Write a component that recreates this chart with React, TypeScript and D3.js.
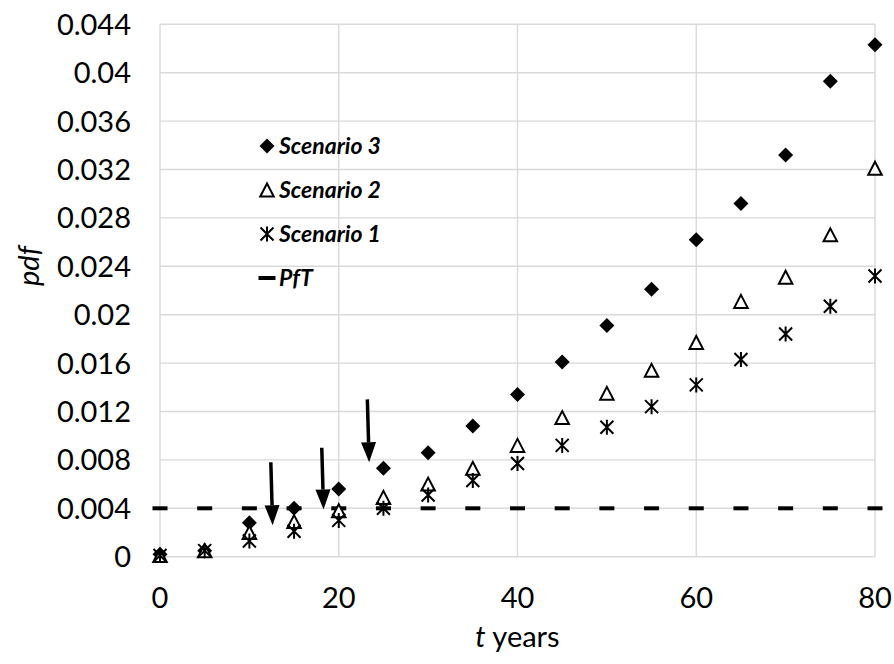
import React from "react";
import * as d3 from "d3";

// Observation years (every 5 years)
const years = [0, 5, 10, 15, 20, 25, 30, 35, 40, 45, 50, 55, 60, 65, 70, 75, 80];

// Probability density per scenario
const scenario3 = [0.0002, 0.0005, 0.0028, 0.004, 0.0056, 0.0073, 0.0086, 0.0108, 0.0134, 0.0161, 0.0191, 0.0221, 0.0262, 0.0292, 0.0332, 0.0393, 0.0423];
const scenario2 = [0.0001, 0.0005, 0.002, 0.0029, 0.0038, 0.0049, 0.006, 0.0073, 0.0092, 0.0115, 0.0135, 0.0154, 0.0177, 0.0211, 0.0231, 0.0266, 0.0321];
const scenario1 = [0.0001, 0.0005, 0.0013, 0.0021, 0.003, 0.004, 0.0051, 0.0063, 0.0077, 0.0092, 0.0107, 0.0124, 0.0142, 0.0163, 0.0184, 0.0207, 0.0232];

// Target threshold
const pftValue = 0.004;

// Axis ticks
const xTicks = [0, 20, 40, 60, 80];
const yTicks = [0, 0.004, 0.008, 0.012, 0.016, 0.02, 0.024, 0.028, 0.032, 0.036, 0.04, 0.044];

// Arrows marking where each scenario crosses the threshold
const arrowT0 = [12.4, 18.1, 23.2];
const arrowT1 = [12.6, 18.3, 23.4];
const arrowY0 = [0.0078, 0.009, 0.013];
const arrowY1 = [0.0026, 0.0039, 0.0078];

const legendLabels = ["Scenario 3", "Scenario 2", "Scenario 1", "PfT"];

const W = 894;
const H = 664;
const FONT = "Lato, 'Open Sans', sans-serif";
const AXIS_FS = 29;

const x = d3.scaleLinear().domain([0, 80]).range([160, 875]);
const y = d3.scaleLinear().domain([0, 0.044]).range([556.7, 24.3]);

const GRID = "#d9d9d9";

function Diamond({ cx, cy, r = 7.5 }: { cx: number; cy: number; r?: number }) {
  return <path d={`M${cx},${cy - r}L${cx + r},${cy}L${cx},${cy + r}L${cx - r},${cy}Z`} fill="#000" />;
}

function Triangle({ cx, cy }: { cx: number; cy: number }) {
  const w = 13.5;
  const h = 13;
  return (
    <path
      d={`M${cx},${cy - h / 2}L${cx + w / 2},${cy + h / 2}L${cx - w / 2},${cy + h / 2}Z`}
      fill="#fff"
      stroke="#000"
      strokeWidth={2}
      strokeLinejoin="miter"
    />
  );
}

function Star({ cx, cy }: { cx: number; cy: number }) {
  const r = 7.5;
  const d = 6.5;
  return (
    <path
      d={`M${cx},${cy - r}L${cx},${cy + r}M${cx - d},${cy - d}L${cx + d},${cy + d}M${cx + d},${cy - d}L${cx - d},${cy + d}`}
      stroke="#000"
      strokeWidth={2}
      fill="none"
    />
  );
}

function Dash({ cx, cy }: { cx: number; cy: number }) {
  return <rect x={cx - 7.5} y={cy - 2} width={15} height={4} fill="#000" />;
}

export default function App() {
  const [x0, x1] = x.range();
  const [yb, yt] = y.range();

  return (
    <svg
      width={W}
      height={H}
      viewBox={`0 0 ${W} ${H}`}
      style={{ position: "absolute", left: 0, top: 0, background: "#fff" }}
      fontFamily={FONT}
    >
      <rect width={W} height={H} fill="#fff" />

      {/* gridlines */}
      {yTicks.map((t) => (
        <line key={`gy${t}`} x1={x0} x2={x1} y1={y(t)} y2={y(t)} stroke={GRID} strokeWidth={1.4} />
      ))}
      {xTicks.map((t) => (
        <line key={`gx${t}`} x1={x(t)} x2={x(t)} y1={yt} y2={yb} stroke={GRID} strokeWidth={1.4} />
      ))}

      {/* tick labels */}
      {yTicks.map((t) => (
        <text key={`ty${t}`} x={131} y={y(t)} dy="0.36em" textAnchor="end" fontSize={AXIS_FS} fill="#000">
          {t === 0 ? "0" : d3.format("")(+t.toFixed(3))}
        </text>
      ))}
      {xTicks.map((t) => (
        <text key={`tx${t}`} x={x(t)} y={608} textAnchor="middle" fontSize={AXIS_FS} fill="#000">
          {t}
        </text>
      ))}

      {/* axis titles */}
      <text
        transform={`translate(39,266) rotate(-90)`}
        textAnchor="middle"
        fontSize={AXIS_FS}
        fontStyle="italic"
        fill="#000"
      >
        pdf
      </text>
      <text x={(x0 + x1) / 2} y={647} textAnchor="middle" fontSize={AXIS_FS} fill="#000">
        <tspan fontStyle="italic">t</tspan> years
      </text>

      {/* threshold markers */}
      {years.map((t) => (
        <Dash key={`p${t}`} cx={x(t)} cy={y(pftValue)} />
      ))}

      {/* series */}
      {years.map((t, i) => (
        <Diamond key={`s3${t}`} cx={x(t)} cy={y(scenario3[i])} />
      ))}
      {years.map((t, i) => (
        <Triangle key={`s2${t}`} cx={x(t)} cy={y(scenario2[i])} />
      ))}
      {years.map((t, i) => (
        <Star key={`s1${t}`} cx={x(t)} cy={y(scenario1[i])} />
      ))}

      {/* arrows */}
      {arrowT0.map((t, i) => {
        const ax0 = x(t);
        const ay0 = y(arrowY0[i]);
        const ax1 = x(arrowT1[i]);
        const ay1 = y(arrowY1[i]);
        const ang = Math.atan2(ay1 - ay0, ax1 - ax0);
        const L = 20;
        const hw = 7.5;
        const bx = ax1 - L * Math.cos(ang);
        const by = ay1 - L * Math.sin(ang);
        const px = -Math.sin(ang) * hw;
        const py = Math.cos(ang) * hw;
        return (
          <g key={`a${i}`}>
            <line x1={ax0} y1={ay0} x2={bx} y2={by} stroke="#000" strokeWidth={3.5} />
            <path d={`M${ax1},${ay1}L${bx + px},${by + py}L${bx - px},${by - py}Z`} fill="#000" />
          </g>
        );
      })}

      {/* legend */}
      {legendLabels.map((lab, i) => {
        const cy = 146 + i * 44;
        const mx = 267;
        return (
          <g key={lab}>
            {i === 0 && <Diamond cx={mx} cy={cy} />}
            {i === 1 && <Triangle cx={mx} cy={cy} />}
            {i === 2 && <Star cx={mx} cy={cy} />}
            {i === 3 && <rect x={mx - 8.5} y={cy - 2} width={17} height={4} fill="#000" />}
            <text x={279} y={cy} dy="0.36em" fontSize={23} fontWeight="bold" fontStyle="italic" fill="#000">
              {lab}
            </text>
          </g>
        );
      })}
    </svg>
  );
}
